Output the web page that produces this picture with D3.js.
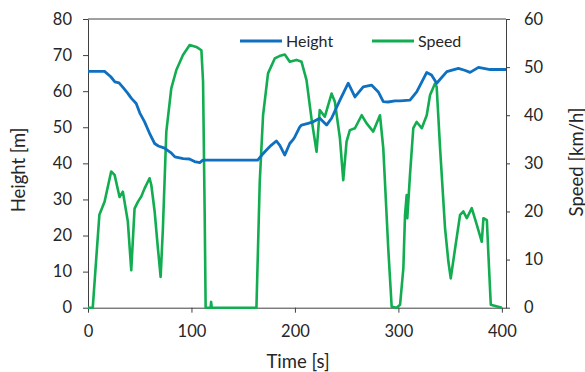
<!DOCTYPE html>
<html>
<head>
<meta charset="utf-8">
<script src="https://cdn.jsdelivr.net/npm/d3@7"></script>
<style>
    body { margin: 0; background: #fff; }
    text { font-family: Lato, "Open Sans", sans-serif; fill: #262626; }
    .axis path, .axis line { stroke: #404040; stroke-width: 1; }
    .axis text { font-size: 16.5px; }
    .axisTitle { font-size: 18.5px; }
    .legendText { font-size: 16px; }
</style>
</head>
<body>
<script>
//chart data
var heightTime = [0,16,22,26,30,34,38.5,42,46.6,50,54.7,60,64.4,68,74,80,84,92,98,103,108,111,164,168,172.5,177,182,185.4,190.2,195,198,200,204.7,206.4,212.8,217.6,224,230.6,235.4,243.5,251.5,258,266,274,280.6,285.4,290,296.7,301.6,311.2,317.7,327.4,332,337,346.8,358,364,369.3,377.4,388.7,404];
var heightVals = [65.5,65.5,64,62.6,62.3,61,59.4,58,56.6,54,51.5,48,45.5,44.8,44.2,43,41.8,41.3,41.2,40.5,40.2,40.9,40.9,42.3,43.7,45,46.2,45,42.3,45.5,46.5,47.4,50.1,50.6,51.1,51.5,52.5,50.6,52.5,57.5,62.2,58.4,61.2,61.7,59.8,57.1,57,57.3,57.3,57.5,59.8,65.2,64.5,62.2,65.4,66.3,65.8,65.2,66.6,66,66];

var speedTime = [0,4.6,8,11,16,22.4,25.7,30.5,33.7,38.5,41.8,45,48.2,51.5,54.7,59.5,61.2,64.4,67.6,70.2,72.4,75.7,80.5,85.4,91.8,98.3,104.7,109.6,111.2,112.8,113.7,118.5,119,119.6,162.8,166,169.2,174,180.5,185,190.2,195,201.5,206.4,211.2,216,220.9,224,228.9,235.4,238.6,243.5,246.7,249.9,253.1,258,264.5,269.3,275.7,282.2,285.4,290.2,293.5,298.3,301.6,304.8,306.4,308,308.6,311.2,314.4,317.7,322.6,327.4,330.6,335.4,337,340.3,345.1,348.3,350.6,354.8,359.6,362.8,366.1,370.9,375.8,380.6,382.2,385.5,387,389.3,400];
var speedVals = [0,0,10.3,19.3,22,28.3,27.6,23,24.1,17.9,7.8,20.6,22,23.1,24.8,26.9,25.5,20,12.3,6.4,16.5,36.6,45.6,49.4,52.5,54.6,54.2,53.5,47,19,0,0,1.2,0,0,26.2,40,48.7,51.8,52.3,52.6,51.1,51.5,51.1,47.3,39.3,32.4,41.1,39.7,44.5,42.8,35.2,26.5,34.5,36.9,37.3,40,38.3,36.6,40,33.1,12.3,0.2,0,0.6,8.2,19.3,23.4,18.6,27.6,37.3,38.6,37.3,40,44.2,46.6,45.9,33.1,16.5,9.6,6.1,12.3,19.3,20,18.6,20.7,17.2,13.7,18.6,18.2,11,0.6,0];

var xTicks = [0, 100, 200, 300, 400];
var heightTicks = [0, 10, 20, 30, 40, 50, 60, 70, 80];
var speedTicks = [0, 10, 20, 30, 40, 50, 60];
var seriesNames = ["Height", "Speed"];
var seriesColors = ["#1070c0", "#12ad50"];

//chart frame dimensions
var width = 585,
    height = 372,
    margin = {top: 19, right: 79, bottom: 64.3, left: 88},
    innerWidth = width - margin.left - margin.right,
    innerHeight = height - margin.top - margin.bottom;

var svg = d3.select("body")
    .append("svg")
    .attr("width", width)
    .attr("height", height);

var plot = svg.append("g")
    .attr("transform", "translate(" + margin.left + "," + margin.top + ")");

//scales
var x = d3.scaleLinear().domain([0, 404]).range([0, innerWidth]);
var yLeft = d3.scaleLinear().domain([0, 80]).range([innerHeight, 0]);
var yRight = d3.scaleLinear().domain([0, 60]).range([innerHeight, 0]);

//top border of the plot box
plot.append("line")
    .attr("x1", 0).attr("x2", innerWidth)
    .attr("y1", 0).attr("y2", 0)
    .attr("stroke", "#404040");

//axes
var xAxis = plot.append("g")
    .attr("class", "axis")
    .attr("transform", "translate(0," + innerHeight + ")")
    .call(d3.axisBottom(x).tickValues(xTicks).tickSize(5).tickSizeOuter(0).tickPadding(13));

var leftAxis = plot.append("g")
    .attr("class", "axis")
    .call(d3.axisLeft(yLeft).tickValues(heightTicks).tickSize(5).tickSizeOuter(0).tickPadding(11));

var rightAxis = plot.append("g")
    .attr("class", "axis")
    .attr("transform", "translate(" + innerWidth + ",0)")
    .call(d3.axisRight(yRight).tickValues(speedTicks).tickSize(4).tickSizeOuter(0).tickPadding(14));

//line generators
var heightLine = d3.line()
    .x(function(d, i){ return x(heightTime[i]); })
    .y(function(d){ return yLeft(d); });

var speedLine = d3.line()
    .x(function(d, i){ return x(speedTime[i]); })
    .y(function(d){ return yRight(d); });

plot.append("path")
    .datum(speedVals)
    .attr("fill", "none")
    .attr("stroke", seriesColors[1])
    .attr("stroke-width", 2.6)
    .attr("stroke-linejoin", "round")
    .attr("d", speedLine);

plot.append("path")
    .datum(heightVals)
    .attr("fill", "none")
    .attr("stroke", seriesColors[0])
    .attr("stroke-width", 2.8)
    .attr("stroke-linejoin", "round")
    .attr("d", heightLine);

//legend
var legendX = [240, 372];
var legend = svg.selectAll(".legendItem")
    .data(seriesNames)
    .enter()
    .append("g")
    .attr("class", "legendItem")
    .attr("transform", function(d, i){ return "translate(" + legendX[i] + ",41)"; });

legend.append("line")
    .attr("x1", 0).attr("x2", 42)
    .attr("stroke", function(d, i){ return seriesColors[i]; })
    .attr("stroke-width", 2.8);

legend.append("text")
    .attr("class", "legendText")
    .attr("x", 46)
    .attr("y", 6)
    .text(function(d){ return d; });

//axis titles
svg.append("text")
    .attr("class", "axisTitle")
    .attr("text-anchor", "middle")
    .attr("transform", "translate(298,368)")
    .text("Time [s]");

svg.append("text")
    .attr("class", "axisTitle")
    .attr("text-anchor", "middle")
    .attr("transform", "translate(25,170) rotate(-90)")
    .text("Height [m]");

svg.append("text")
    .attr("class", "axisTitle")
    .attr("text-anchor", "middle")
    .attr("transform", "translate(583,162) rotate(-90)")
    .text("Speed [km/h]");
</script>
</body>
</html>
